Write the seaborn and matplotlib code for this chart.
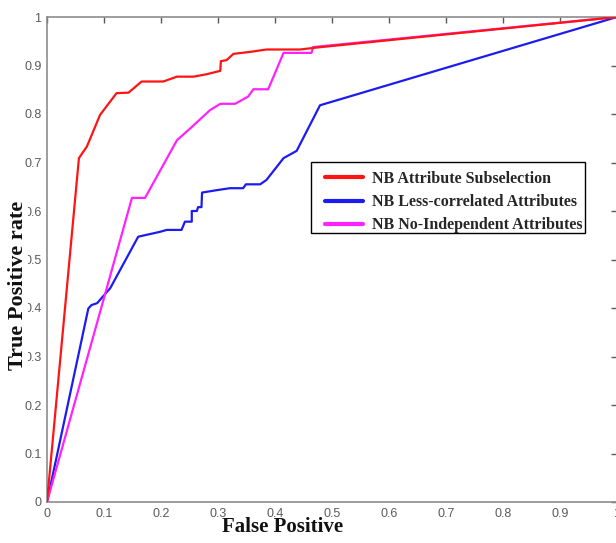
import matplotlib
matplotlib.use("Agg")
import numpy as np
import pandas as pd
import matplotlib.pyplot as plt
from matplotlib.patches import Rectangle
import seaborn as sns

# ROC curves
CURVE_NAMES = [
    "NB Attribute Subselection",
    "NB Less-correlated Attributes",
    "NB No-Independent Attributes",
]
CURVE_COLORS = ["#ff1414", "#1c1cf0", "#ff22ff"]

subsel_fp = [0.0, 0.056, 0.070, 0.093, 0.122, 0.143, 0.166, 0.204, 0.228, 0.257,
             0.280, 0.304, 0.305, 0.315, 0.327, 0.356, 0.385, 0.444, 0.473, 1.0]
subsel_tp = [0.0, 0.709, 0.733, 0.798, 0.843, 0.844, 0.867, 0.867, 0.877, 0.877,
             0.882, 0.889, 0.909, 0.911, 0.924, 0.928, 0.933, 0.933, 0.937, 1.0]

lesscorr_fp = [0.0, 0.0725, 0.078, 0.088, 0.111, 0.160, 0.198, 0.210, 0.236, 0.242,
               0.254, 0.254, 0.263, 0.265, 0.271, 0.272, 0.298, 0.321, 0.344, 0.349,
               0.374, 0.385, 0.415, 0.438, 0.479, 1.0]
lesscorr_tp = [0.0, 0.399, 0.406, 0.410, 0.441, 0.547, 0.557, 0.561, 0.561, 0.578,
               0.578, 0.600, 0.600, 0.608, 0.608, 0.638, 0.643, 0.647, 0.647, 0.655,
               0.655, 0.664, 0.709, 0.724, 0.818, 1.0]

noindep_fp = [0.0, 0.149, 0.172, 0.228, 0.251, 0.286, 0.304, 0.330, 0.353, 0.362,
              0.388, 0.415, 0.464, 0.467, 1.0]
noindep_tp = [0.0, 0.627, 0.627, 0.746, 0.770, 0.808, 0.821, 0.821, 0.836, 0.851,
              0.851, 0.926, 0.926, 0.938, 1.0]

tick_values = [0, 0.1, 0.2, 0.3, 0.4, 0.5, 0.6, 0.7, 0.8, 0.9, 1]
tick_labels = ["0", "0.1", "0.2", "0.3", "0.4", "0.5", "0.6", "0.7", "0.8", "0.9", "1"]

frames = []
for name, fp, tp in zip(CURVE_NAMES,
                        [subsel_fp, lesscorr_fp, noindep_fp],
                        [subsel_tp, lesscorr_tp, noindep_tp]):
    frames.append(pd.DataFrame({"fp": fp, "tp": tp, "curve": name}))
df = pd.concat(frames, ignore_index=True)

sns.set_style("white")
plt.rcParams["font.family"] = ["Liberation Sans", "DejaVu Sans"]

W, H = 616, 543
fig = plt.figure(figsize=(W / 100, H / 100), dpi=100)
ax = fig.add_axes([47 / W, 41 / H, 570 / W, 485 / H])

sns.lineplot(data=df, x="fp", y="tp", hue="curve", hue_order=CURVE_NAMES,
             palette=CURVE_COLORS, estimator=None, sort=False, linewidth=1.6,
             ax=ax, legend=True)
ax.lines[0].set_zorder(4)

ax.set_xlim(0, 1)
ax.set_ylim(0, 1)
ax.set_xticks(tick_values)
ax.set_xticklabels(tick_labels)
ax.set_yticks(tick_values)
ax.set_yticklabels(tick_labels)
ax.tick_params(direction="in", length=4, width=1, colors="#5a5a5a",
               labelsize=9, top=True, right=True, pad=4)
for sp in ax.spines.values():
    sp.set_color("#8c8c8c")
    sp.set_linewidth(1.2)
ax.set_xlabel("")
ax.set_ylabel("")

serif = ["Liberation Serif", "DejaVu Serif"]
fig.text(283 / W, 1 - 532 / H, "False Positive", ha="center", va="baseline",
         family=serif, weight="bold", size=15, color="#111111")
fig.text(18 / W, 1 - 285 / H, "True Positive rate", ha="center", va="center",
         rotation=90, family=serif, weight="bold", size=16, color="#111111",
         bbox=dict(facecolor="white", edgecolor="none", pad=0))

# legend frame drawn as its own box, legend entries placed inside it
ax.add_patch(Rectangle((311 / W, 1 - 233 / H), 274 / W, 71 / H,
                       transform=fig.transFigure, facecolor="white",
                       edgecolor="black", linewidth=1.0, zorder=4.5))
handles, labels = ax.get_legend_handles_labels()
leg = ax.legend(handles, labels, loc="upper left",
                bbox_to_anchor=(325 / W, 1 - 171 / H), bbox_transform=fig.transFigure,
                frameon=False,
                prop=dict(family=serif, weight="bold", size=11.5),
                handlelength=2.4, handletextpad=0.56, labelspacing=0.45,
                borderpad=0, borderaxespad=0)
for line in leg.get_lines():
    line.set_linewidth(3)

fig.savefig("out.png", dpi=100)
